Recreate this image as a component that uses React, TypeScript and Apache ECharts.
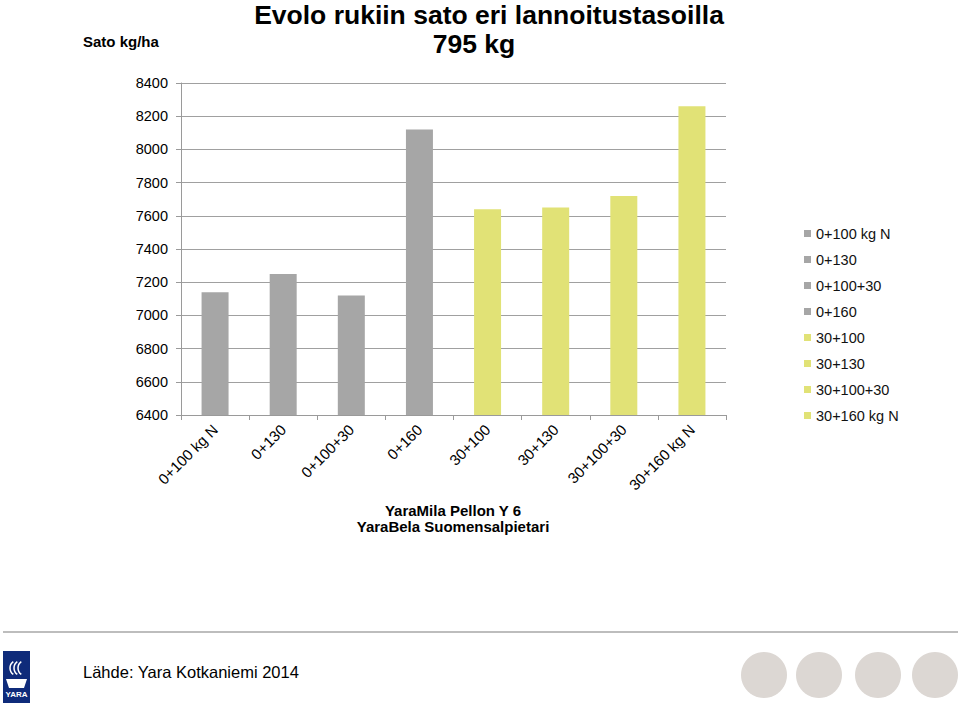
import React, { useEffect, useRef } from "react";
import * as echarts from "echarts";

const categories = ["0+100 kg N", "0+130", "0+100+30", "0+160", "30+100", "30+130", "30+100+30", "30+160 kg N"];
const values = [7140, 7250, 7120, 8120, 7640, 7650, 7720, 8260];
const barColors = ["#a6a6a6", "#a6a6a6", "#a6a6a6", "#a6a6a6", "#e1e276", "#e1e276", "#e1e276", "#e1e276"];
const yTicks = [6400, 8400, 200];

const FONT = "Liberation Sans, Arial, sans-serif";

export default function App() {
  const ref = useRef<HTMLDivElement>(null);
  useEffect(() => {
    if (!ref.current) return;
    const chart = echarts.init(ref.current, null, { renderer: "svg" });
    const series = categories.map((name, i) => ({
      name,
      type: "bar",
      stack: "all",
      barWidth: 27,
      itemStyle: { color: barColors[i] },
      data: categories.map((_, j) => (j === i ? values[i] : null)),
    }));
    chart.setOption({
      animation: false,
      textStyle: { fontFamily: FONT },
      grid: { left: 181, right: 234, top: 83, bottom: 292, containLabel: false },
      legend: {
        orient: "vertical",
        left: 799,
        top: 221,
        itemWidth: 7,
        itemHeight: 7,
        itemGap: 11,
        icon: "rect",
        textStyle: { fontSize: 14.5, color: "#111", fontFamily: FONT, lineHeight: 15 },
        data: categories,
      },
      xAxis: {
        type: "category",
        data: categories,
        axisLine: { lineStyle: { color: "#9a9a9a", width: 1 } },
        axisTick: { show: true, alignWithLabel: false, length: 5, lineStyle: { color: "#9a9a9a" } },
        axisLabel: { rotate: 45, fontSize: 15, color: "#000", fontFamily: FONT, margin: 12, interval: 0 },
      },
      yAxis: {
        type: "value",
        min: yTicks[0],
        max: yTicks[1],
        interval: yTicks[2],
        axisLine: { show: true, lineStyle: { color: "#9a9a9a" } },
        axisTick: { show: true, length: 5, lineStyle: { color: "#9a9a9a" } },
        splitLine: { lineStyle: { color: "#a0a0a0", width: 1 } },
        axisLabel: { fontSize: 14.5, color: "#000", fontFamily: FONT, margin: 13, formatter: (v: number) => String(v) },
      },
      series,
      graphic: [
        { type: "text", x: 489, y: 1, style: { text: "Evolo rukiin sato eri lannoitustasoilla", font: `bold 26.5px ${FONT}`, fill: "#000", textAlign: "center" } },
        { type: "text", x: 474, y: 30, style: { text: "795 kg", font: `bold 26.5px ${FONT}`, fill: "#000", textAlign: "center" } },
        { type: "text", x: 83, y: 34, style: { text: "Sato kg/ha", font: `bold 15px ${FONT}`, fill: "#000" } },
        { type: "text", x: 453, y: 503, style: { text: "YaraMila Pellon Y 6", font: `bold 15px ${FONT}`, fill: "#000", textAlign: "center" } },
        { type: "text", x: 453, y: 519, style: { text: "YaraBela Suomensalpietari", font: `bold 15px ${FONT}`, fill: "#000", textAlign: "center" } },
        { type: "line", shape: { x1: 3, y1: 632, x2: 958, y2: 632 }, style: { stroke: "#bdbdbd", lineWidth: 2 } },
        { type: "rect", shape: { x: 3, y: 651, width: 27, height: 52 }, style: { fill: "#0f2b7a" } },
        { type: "arc", shape: { cx: 18, cy: 668, r: 8, startAngle: Math.PI * 0.7, endAngle: Math.PI * 1.3 }, style: { stroke: "#fff", lineWidth: 1.5, fill: "none" } },
        { type: "arc", shape: { cx: 22, cy: 668, r: 8, startAngle: Math.PI * 0.7, endAngle: Math.PI * 1.3 }, style: { stroke: "#fff", lineWidth: 1.5, fill: "none" } },
        { type: "arc", shape: { cx: 26, cy: 668, r: 8, startAngle: Math.PI * 0.7, endAngle: Math.PI * 1.3 }, style: { stroke: "#fff", lineWidth: 1.5, fill: "none" } },
        { type: "polygon", shape: { points: [[6, 679], [27, 679], [24, 688], [9, 688]] }, style: { fill: "#fff" } },
        { type: "text", x: 16.5, y: 690, style: { text: "YARA", font: `bold 8px ${FONT}`, fill: "#fff", textAlign: "center" } },
        { type: "text", x: 83, y: 663, style: { text: "Lähde: Yara Kotkaniemi 2014", font: `16.5px ${FONT}`, fill: "#000" } },
        { type: "circle", shape: { cx: 764, cy: 675, r: 23 }, style: { fill: "#dcd7d3" } },
        { type: "circle", shape: { cx: 819, cy: 675, r: 23 }, style: { fill: "#dcd7d3" } },
        { type: "circle", shape: { cx: 878, cy: 675, r: 23 }, style: { fill: "#dcd7d3" } },
        { type: "circle", shape: { cx: 935, cy: 675, r: 23 }, style: { fill: "#dcd7d3" } },
      ],
    });
    return () => chart.dispose();
  }, []);
  return <div ref={ref} style={{ width: 960, height: 707, position: "absolute", left: 0, top: 0 }} />;
}
